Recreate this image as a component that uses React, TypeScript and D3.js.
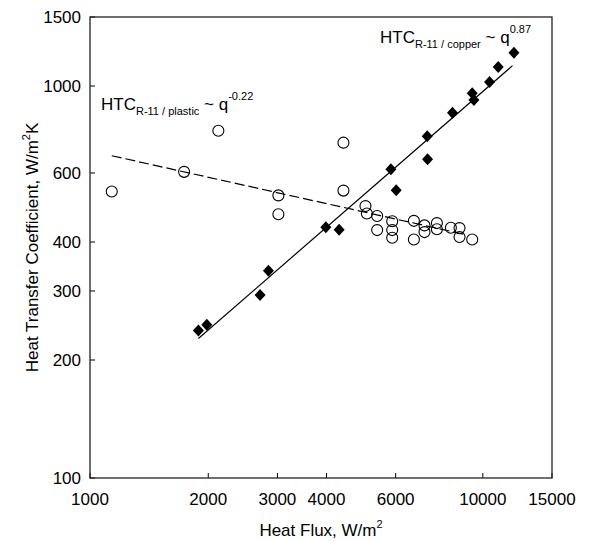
import React, { useRef, useEffect } from "react";
import * as d3 from "d3";

// copper surface (filled diamonds)
const copperFlux = [1888, 1983, 2710, 2846, 3984, 4307, 5834, 6018, 7218, 7233, 8370, 9397, 9490, 10402, 10944, 12000];
const copperHtc = [238, 246, 293, 338, 436, 430, 613, 542, 745, 650, 855, 958, 921, 1024, 1118, 1216];

// plastic surface (open circles)
const plasticFlux = [1136, 1736, 2122, 3017, 3017, 4417, 4417, 5026, 5068, 5383, 5383, 5879, 5879, 5879, 6676, 6676, 7104, 7104, 7640, 7640, 8292, 8723, 8723, 9397];
const plasticHtc = [538, 604, 769, 526, 471, 717, 541, 494, 473, 466, 429, 452, 429, 410, 453, 406, 441, 424, 447, 431, 435, 434, 412, 406];

// fitted power-law lines (end points)
const copperFitFlux = [1888, 11900];
const copperFitHtc = [227, 1127];
const plasticFitFlux = [1136, 9110];
const plasticFitHtc = [664, 417];

const xTicks = [1000, 2000, 3000, 4000, 6000, 10000, 15000];
const yTicks = [100, 200, 300, 400, 600, 1000, 1500];

const width = 589;
const height = 541;
const margin = { top: 17, right: 37, bottom: 63, left: 90 };
const font = "'Liberation Sans', Arial, sans-serif";

const App = () => {
  const wrapper = useRef<SVGSVGElement | null>(null);

  useEffect(() => {
    const svg = d3.select(wrapper.current);
    svg.selectAll("*").remove();

    const x = d3.scaleLog().domain([1000, 15000]).range([margin.left, width - margin.right]);
    const y = d3.scaleLog().domain([100, 1500]).range([height - margin.bottom, margin.top]);
    const x0 = margin.left, x1 = width - margin.right;
    const y0 = height - margin.bottom, y1 = margin.top;

    const g = svg.append("g").style("font-family", font);

    // ticks (inward)
    g.selectAll(".xt")
      .data(xTicks)
      .enter()
      .append("line")
      .attr("x1", (d) => x(d))
      .attr("x2", (d) => x(d))
      .attr("y1", y0)
      .attr("y2", y0 - 5)
      .attr("stroke", "#000")
      .attr("stroke-width", 1);
    g.selectAll(".yt")
      .data(yTicks)
      .enter()
      .append("line")
      .attr("x1", x0)
      .attr("x2", x0 + 5)
      .attr("y1", (d) => y(d))
      .attr("y2", (d) => y(d))
      .attr("stroke", "#000")
      .attr("stroke-width", 1);

    // tick labels
    g.selectAll(".xl")
      .data(xTicks)
      .enter()
      .append("text")
      .attr("x", (d) => x(d))
      .attr("y", 505)
      .attr("text-anchor", "middle")
      .attr("font-size", 17)
      .text((d) => String(d));
    g.selectAll(".yl")
      .data(yTicks)
      .enter()
      .append("text")
      .attr("x", 81)
      .attr("y", (d) => y(d))
      .attr("dy", "0.35em")
      .attr("text-anchor", "end")
      .attr("font-size", 17)
      .text((d) => String(d));

    // frame
    g.append("rect")
      .attr("x", x0)
      .attr("y", y1)
      .attr("width", x1 - x0)
      .attr("height", y0 - y1)
      .attr("fill", "none")
      .attr("stroke", "#222")
      .attr("stroke-width", 1.3);

    const line = d3
      .line<[number, number]>()
      .x((d) => x(d[0]))
      .y((d) => y(d[1]));

    g.append("path")
      .attr("d", line(copperFitFlux.map((q, i) => [q, copperFitHtc[i]])))
      .attr("fill", "none")
      .attr("stroke", "#000")
      .attr("stroke-width", 1.2);
    g.append("path")
      .attr("d", line(plasticFitFlux.map((q, i) => [q, plasticFitHtc[i]])))
      .attr("fill", "none")
      .attr("stroke", "#000")
      .attr("stroke-width", 1.2)
      .attr("stroke-dasharray", "10,4");

    // plastic points
    g.selectAll(".pc")
      .data(plasticFlux)
      .enter()
      .append("circle")
      .attr("cx", (d) => x(d))
      .attr("cy", (d, i) => y(plasticHtc[i]))
      .attr("r", 5.5)
      .attr("fill", "none")
      .attr("stroke", "#000")
      .attr("stroke-width", 1.1);

    // copper points
    g.selectAll(".cd")
      .data(copperFlux)
      .enter()
      .append("path")
      .attr("d", "M0,-6L5.5,0L0,6L-5.5,0Z")
      .attr("transform", (d, i) => `translate(${x(d)},${y(copperHtc[i])})`)
      .attr("fill", "#000");

    // annotations
    const note = (px: number, py: number, sub: string, sup: string) => {
      const t = g.append("text").attr("x", px).attr("y", py).attr("font-size", 17);
      t.append("tspan").text("HTC");
      t.append("tspan").attr("dy", 4.5).attr("font-size", 11).text(sub);
      t.append("tspan").attr("dy", -4.5).text("\u00a0~ q");
      t.append("tspan").attr("dy", -10).attr("font-size", 11).text(sup);
    };
    note(380, 43, "R-11 / copper", "0.87");
    note(101, 110, "R-11 / plastic", "-0.22");

    // axis titles
    const xt = g
      .append("text")
      .attr("x", (x0 + x1) / 2)
      .attr("y", 536)
      .attr("text-anchor", "middle")
      .attr("font-size", 17);
    xt.append("tspan").text("Heat Flux, W/m");
    xt.append("tspan").attr("dy", -8).attr("font-size", 11).text("2");

    const yt = g
      .append("text")
      .attr("transform", `translate(38,${(y0 + y1) / 2}) rotate(-90)`)
      .attr("text-anchor", "middle")
      .attr("font-size", 17);
    yt.append("tspan").text("Heat Transfer Coefficient, W/m");
    yt.append("tspan").attr("dy", -8).attr("font-size", 11).text("2");
    yt.append("tspan").attr("dy", 8).text("K");
  }, []);

  return (
    <svg
      ref={wrapper}
      width={width}
      height={height}
      style={{ position: "absolute", left: 0, top: 0, background: "#fff" }}
    />
  );
};

export default App;
